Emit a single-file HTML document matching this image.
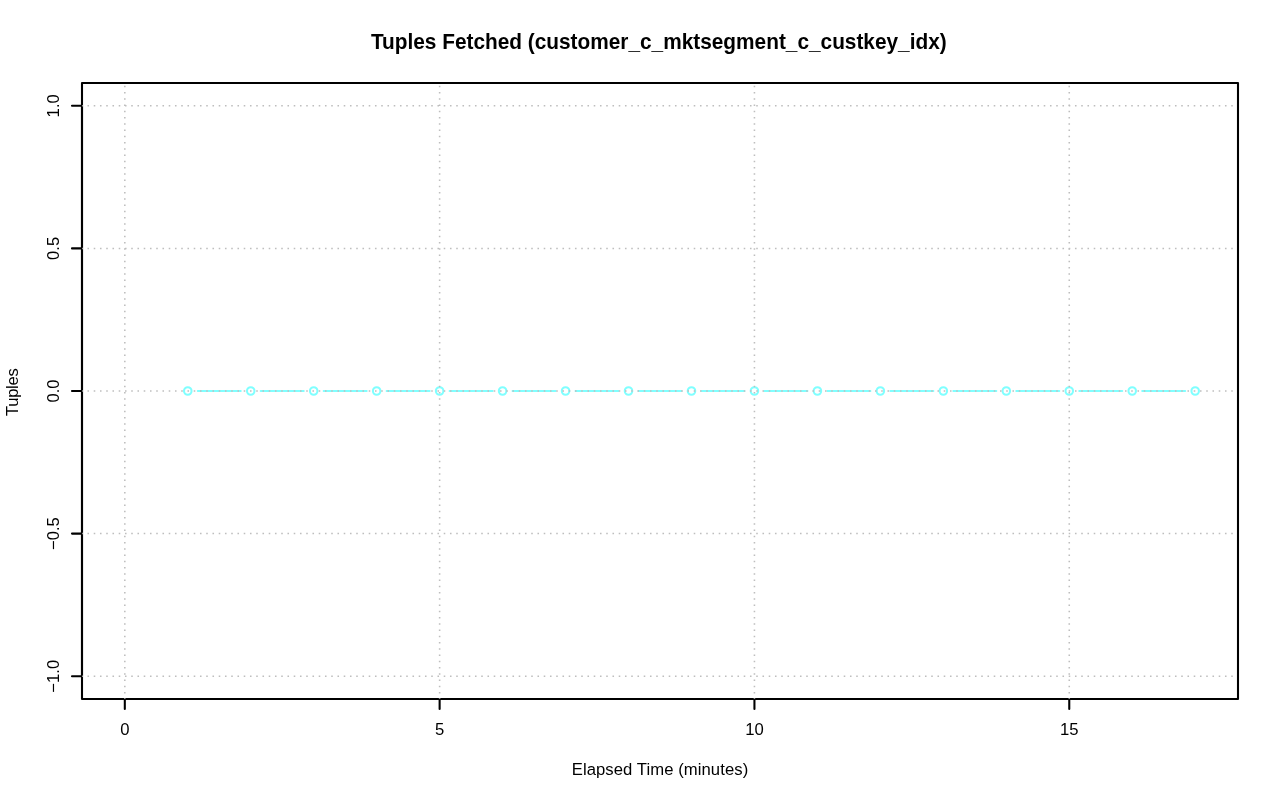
<!DOCTYPE html>
<html><head><meta charset="utf-8"><title>Tuples Fetched</title>
<style>
html,body{margin:0;padding:0;background:#fff;}
body{width:1280px;height:801px;overflow:hidden;}
svg{display:block;}
text{font-family:"Liberation Sans",Arial,Helvetica,sans-serif;fill:#000;}
</style></head><body>
<svg width="1280" height="801" viewBox="0 0 1280 801">
<rect width="1280" height="801" fill="#fff"/>

<g stroke="#000" stroke-width="2.08" fill="none" stroke-linecap="round" stroke-linejoin="round">
<rect x="82" y="83" width="1156" height="616"/>
<path d="M124.81 699 H1069.26"/>
<path d="M124.81 699 v10"/>
<path d="M439.63 699 v10"/>
<path d="M754.44 699 v10"/>
<path d="M1069.26 699 v10"/>
<path d="M82 676.19 V105.81"/>
<path d="M82 676.19 h-10"/>
<path d="M82 533.59 h-10"/>
<path d="M82 391.00 h-10"/>
<path d="M82 248.41 h-10"/>
<path d="M82 105.81 h-10"/>
</g>
<g stroke="#80ffff" stroke-width="2.08" fill="none" stroke-linecap="round">
<line x1="197.78" y1="391.00" x2="240.74" y2="391.00"/>
<line x1="260.74" y1="391.00" x2="303.70" y2="391.00"/>
<line x1="323.70" y1="391.00" x2="366.67" y2="391.00"/>
<line x1="386.67" y1="391.00" x2="429.63" y2="391.00"/>
<line x1="449.63" y1="391.00" x2="492.59" y2="391.00"/>
<line x1="512.59" y1="391.00" x2="555.56" y2="391.00"/>
<line x1="575.56" y1="391.00" x2="618.52" y2="391.00"/>
<line x1="638.52" y1="391.00" x2="681.48" y2="391.00"/>
<line x1="701.48" y1="391.00" x2="744.44" y2="391.00"/>
<line x1="764.44" y1="391.00" x2="807.41" y2="391.00"/>
<line x1="827.41" y1="391.00" x2="870.37" y2="391.00"/>
<line x1="890.37" y1="391.00" x2="933.33" y2="391.00"/>
<line x1="953.33" y1="391.00" x2="996.30" y2="391.00"/>
<line x1="1016.30" y1="391.00" x2="1059.26" y2="391.00"/>
<line x1="1079.26" y1="391.00" x2="1122.22" y2="391.00"/>
<line x1="1142.22" y1="391.00" x2="1185.19" y2="391.00"/>
<circle cx="187.78" cy="391.00" r="3.75"/>
<circle cx="250.74" cy="391.00" r="3.75"/>
<circle cx="313.70" cy="391.00" r="3.75"/>
<circle cx="376.67" cy="391.00" r="3.75"/>
<circle cx="439.63" cy="391.00" r="3.75"/>
<circle cx="502.59" cy="391.00" r="3.75"/>
<circle cx="565.56" cy="391.00" r="3.75"/>
<circle cx="628.52" cy="391.00" r="3.75"/>
<circle cx="691.48" cy="391.00" r="3.75"/>
<circle cx="754.44" cy="391.00" r="3.75"/>
<circle cx="817.41" cy="391.00" r="3.75"/>
<circle cx="880.37" cy="391.00" r="3.75"/>
<circle cx="943.33" cy="391.00" r="3.75"/>
<circle cx="1006.30" cy="391.00" r="3.75"/>
<circle cx="1069.26" cy="391.00" r="3.75"/>
<circle cx="1132.22" cy="391.00" r="3.75"/>
<circle cx="1195.19" cy="391.00" r="3.75"/>
</g>
<g stroke="#bebebe" stroke-width="1.5625" stroke-dasharray="1.5625 4.6875" stroke-dashoffset="0.78125" fill="none">
<line x1="124.81" y1="699" x2="124.81" y2="83"/>
<line x1="439.63" y1="699" x2="439.63" y2="83"/>
<line x1="754.44" y1="699" x2="754.44" y2="83"/>
<line x1="1069.26" y1="699" x2="1069.26" y2="83"/>
<line x1="82" y1="676.19" x2="1236" y2="676.19"/>
<line x1="82" y1="533.59" x2="1236" y2="533.59"/>
<line x1="82" y1="391.00" x2="1236" y2="391.00"/>
<line x1="82" y1="248.41" x2="1236" y2="248.41"/>
<line x1="82" y1="105.81" x2="1236" y2="105.81"/>
</g>
<text transform="translate(370.9,48.9) scale(1,1.05)" font-size="20.83" font-weight="bold">Tuples Fetched (customer_c_mktsegment_c_custkey_idx)</text>
<text x="660" y="775" font-size="16.67" text-anchor="middle" letter-spacing="0.07">Elapsed Time (minutes)</text>
<text transform="translate(18,416) rotate(-90)" font-size="16.67" letter-spacing="-0.33">Tuples</text>
<text x="124.81" y="735" font-size="16.67" text-anchor="middle">0</text>
<text x="439.63" y="735" font-size="16.67" text-anchor="middle">5</text>
<text x="754.44" y="735" font-size="16.67" text-anchor="middle">10</text>
<text x="1069.26" y="735" font-size="16.67" text-anchor="middle">15</text>
<text transform="translate(58.6,676.19) rotate(-90)" font-size="16.67" text-anchor="middle">−1.0</text>
<text transform="translate(58.6,533.59) rotate(-90)" font-size="16.67" text-anchor="middle">−0.5</text>
<text transform="translate(58.6,391.00) rotate(-90)" font-size="16.67" text-anchor="middle">0.0</text>
<text transform="translate(58.6,248.41) rotate(-90)" font-size="16.67" text-anchor="middle">0.5</text>
<text transform="translate(58.6,105.81) rotate(-90)" font-size="16.67" text-anchor="middle">1.0</text>
</svg></body></html>
